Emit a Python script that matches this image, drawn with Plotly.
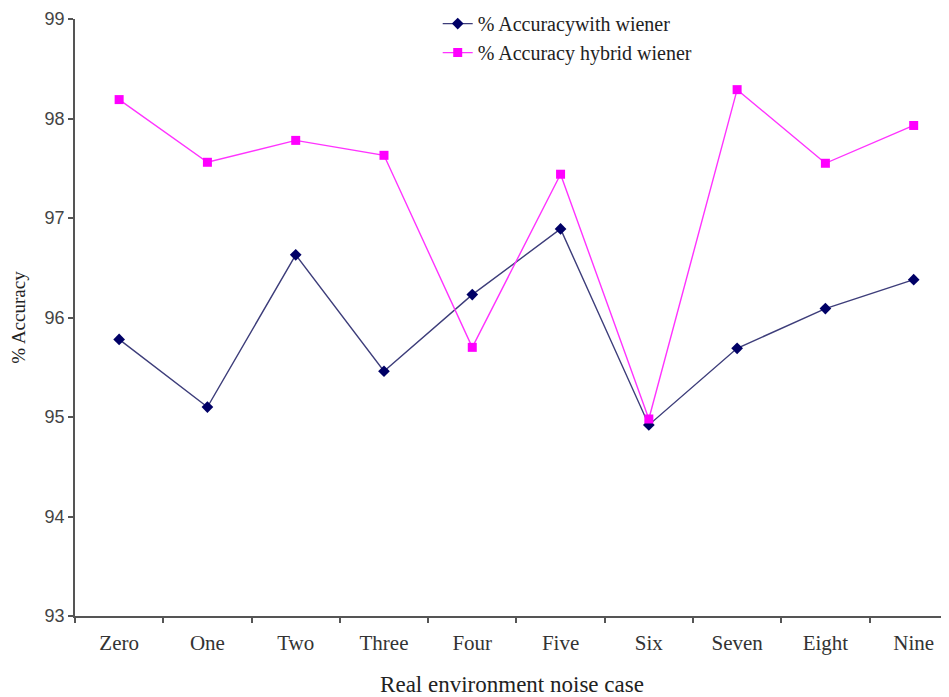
import plotly.graph_objects as go

categories = ["Zero", "One", "Two", "Three", "Four", "Five", "Six", "Seven", "Eight", "Nine"]
acc_wiener = [95.78, 95.10, 96.63, 95.46, 96.23, 96.89, 94.92, 95.69, 96.09, 96.38]
acc_hybrid = [98.19, 97.56, 97.78, 97.63, 95.70, 97.44, 94.98, 98.29, 97.55, 97.93]
y_ticks = [93, 94, 95, 96, 97, 98, 99]

serif = "Liberation Serif, Times New Roman, serif"

fig = go.Figure()
fig.add_trace(go.Scatter(
    x=categories, y=acc_wiener, mode="lines+markers",
    name="% Accuracywith wiener", legendgroup="a",
    line=dict(color="#3d3d7a", width=1.4),
    marker=dict(symbol="diamond", size=9, color="#000066"),
))
fig.add_trace(go.Scatter(
    x=categories, y=acc_hybrid, mode="lines+markers",
    name="% Accuracy hybrid wiener", legendgroup="b",
    line=dict(color="#ff33ff", width=1.4),
    marker=dict(symbol="square", size=9, color="#ff00ff"),
))

fig.update_layout(
    width=949, height=697,
    margin=dict(l=67, r=8, t=11, b=89, autoexpand=False),
    plot_bgcolor="white", paper_bgcolor="white",
    showlegend=True,
    legend=dict(
        x=0.415, y=1.025, xanchor="left", yanchor="top",
        font=dict(family=serif, size=20, color="#222"),
        bgcolor="rgba(0,0,0,0)", tracegroupgap=0,
    ),
)
fig.update_xaxes(
    type="category", range=[-0.5, 9.4], tickson="boundaries", automargin=False,
    ticks="outside", ticklen=5, tickwidth=1.5, tickcolor="#555",
    ticklabelstandoff=7,
    showline=True, linecolor="#555", linewidth=1.5, showgrid=False,
    tickfont=dict(family=serif, size=21, color="#333"),
    title=dict(text="Real environment noise case", standoff=22,
               font=dict(family=serif, size=23, color="#222")),
)
fig.update_yaxes(
    range=[93, 99], tickvals=y_ticks, automargin=False,
    ticks="outside", ticklen=5, tickwidth=1.5, tickcolor="#555",
    showline=True, linecolor="#555", linewidth=1.5, showgrid=False, zeroline=False,
    tickfont=dict(family="Liberation Sans, Arial, sans-serif", size=18, color="#444"),
    title=dict(text="% Accuracy", standoff=15,
               font=dict(family=serif, size=19, color="#222")),
)

fig.write_html("out.html")
